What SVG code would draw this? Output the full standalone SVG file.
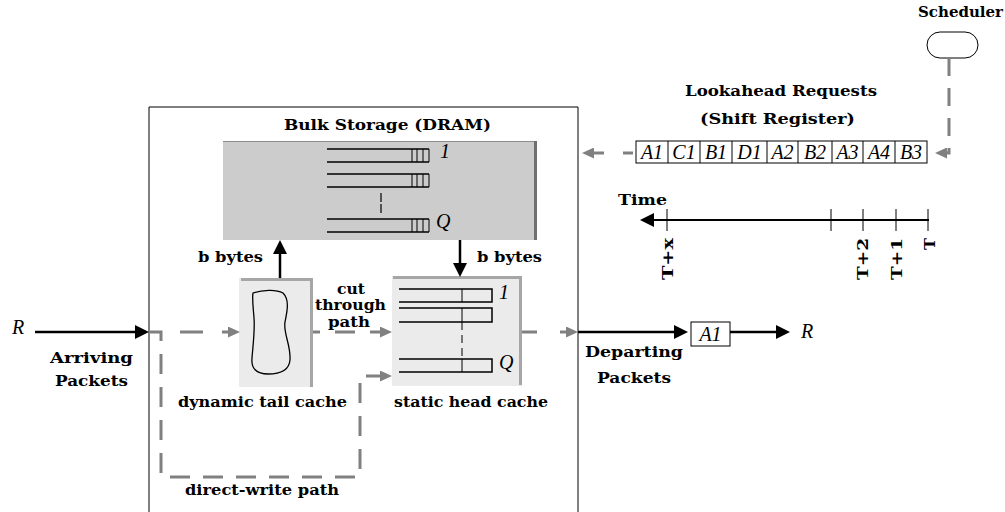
<svg xmlns="http://www.w3.org/2000/svg" width="1005" height="512" viewBox="0 0 1005 512">
<style>
.lb{font-family:"DejaVu Serif","Liberation Serif",serif;font-weight:bold;font-size:15.5px;fill:#000}
.sm{font-size:14px}
.it{font-family:"Liberation Serif","DejaVu Serif",serif;font-style:italic;font-size:20px;fill:#000}
.ln{stroke:#000;stroke-width:1;fill:none}
.q{stroke:#000;stroke-width:1.5;fill:none}
.gd{stroke:#808080;stroke-width:3;fill:none}
.bk{stroke:#000;stroke-width:2.5;fill:none}
.shade{stroke:#a6a6a6;stroke-width:3;fill:none}
</style>
<defs>
<marker id="ga" markerUnits="userSpaceOnUse" markerWidth="12" markerHeight="11" refX="0" refY="5.5" orient="auto"><path d="M0,0 L12,5.5 L0,11 z" fill="#808080"/></marker>
<marker id="ba" markerUnits="userSpaceOnUse" markerWidth="14" markerHeight="14" refX="0" refY="7" orient="auto"><path d="M0,0 L14,7 L0,14 z" fill="#000"/></marker>
</defs>
<rect width="1005" height="512" fill="#fff"/>

<g id="router-box">
<path class="ln" d="M149,512 V107 H578 V512"/>
</g>

<g id="bulk-storage">
<text class="lb" x="387.5" y="130" text-anchor="middle" textLength="207" lengthAdjust="spacingAndGlyphs">Bulk Storage (DRAM)</text>
<rect x="223" y="141" width="314" height="99" fill="#cccccc"/>
<line x1="223" y1="141.5" x2="537" y2="141.5" stroke="#8c8c8c" stroke-width="1"/>
<line x1="535.5" y1="141" x2="535.5" y2="240" stroke="#707070" stroke-width="3"/>
<path class="q" d="M327,149 H429 M327,162 H429 M327,174 H429 M327,187 H429 M327,219 H429 M327,232 H429"/>
<path class="ln" d="M412,149 V162 M417,149 V162 M423,149 V162 M429,149 V162 M412,174 V187 M417,174 V187 M423,174 V187 M429,174 V187 M412,219 V232 M417,219 V232 M423,219 V232 M429,219 V232"/>
<line x1="381" y1="193" x2="381" y2="213" stroke="#000" stroke-width="1.2" stroke-dasharray="9 2"/>
<text class="it" x="440" y="158" font-size="18">1</text>
<text class="it" x="436" y="228" font-size="18">Q</text>
</g>

<g id="tail-cache">
<rect x="239" y="278" width="74" height="109" fill="#ebebeb"/>
<path class="shade" d="M241,279.5 H311.5 V387"/>
<path stroke="#000" stroke-width="1.3" fill="none" d="M253,293 C262,290 276,289 283,293 C290,300 287,312 285,322 C283,333 291,345 290,360 C289,372 278,374 268,374 C256,374 251,368 252,358 C253,345 255,330 254,318 C253,305 252,298 253,293 Z"/>
<text class="lb" x="262.5" y="407" text-anchor="middle" textLength="169" lengthAdjust="spacingAndGlyphs">dynamic tail cache</text>
</g>

<g id="head-cache">
<rect x="392" y="276" width="130" height="110" fill="#ebebeb"/>
<path class="shade" d="M393,277.5 H520.5 V385"/>
<path class="q" d="M399,289 H492 V302 H399 M399,308 H492 V322 H399 M399,359 H492 V372 H399"/>
<path class="ln" d="M462,289 V302 M462,308 V322 M462,359 V372"/>
<line x1="462" y1="322" x2="462" y2="359" stroke="#000" stroke-width="1" stroke-dasharray="8 5"/>
<text class="it" x="499" y="299" font-size="18">1</text>
<text class="it" x="499" y="369" font-size="18">Q</text>
<text class="lb" x="471" y="407" text-anchor="middle" textLength="154" lengthAdjust="spacingAndGlyphs">static head cache</text>
</g>

<g id="arriving">
<text class="it" x="12" y="334">R</text>
<text class="lb" x="91.5" y="363" text-anchor="middle" textLength="83" lengthAdjust="spacingAndGlyphs">Arriving</text>
<text class="lb" x="91.5" y="386" text-anchor="middle" textLength="73" lengthAdjust="spacingAndGlyphs">Packets</text>
</g>

<g id="departing">
<text class="lb" x="634" y="357" text-anchor="middle" textLength="98" lengthAdjust="spacingAndGlyphs">Departing</text>
<text class="lb" x="634" y="383" text-anchor="middle" textLength="74" lengthAdjust="spacingAndGlyphs">Packets</text>
<rect x="691" y="322" width="39" height="24" class="ln" fill="#fff"/>
<text class="it" x="710.5" y="341" text-anchor="middle">A1</text>
<text class="it" x="801" y="338">R</text>
</g>

<g id="scheduler">
<text class="lb" x="960.5" y="17" text-anchor="middle" textLength="85" lengthAdjust="spacingAndGlyphs">Scheduler</text>
<rect x="927" y="32" width="51" height="26" rx="13" ry="13" class="ln" fill="#fff"/>
</g>

<g id="shift-register">
<text class="lb" x="781" y="96" text-anchor="middle" textLength="192" lengthAdjust="spacingAndGlyphs">Lookahead Requests</text>
<text class="lb" x="777.5" y="124" text-anchor="middle" textLength="155" lengthAdjust="spacingAndGlyphs">(Shift Register)</text>
<rect x="636" y="141" width="291" height="22" class="ln" fill="#fff"/>
<path class="ln" d="M668,141 V163 M700,141 V163 M732,141 V163 M767,141 V163 M798,141 V163 M832,141 V163 M863,141 V163 M895,141 V163"/>
<g class="it" text-anchor="middle">
<text x="652" y="159">A1</text>
<text x="684" y="159">C1</text>
<text x="716" y="159">B1</text>
<text x="749.5" y="159">D1</text>
<text x="782.5" y="159">A2</text>
<text x="815" y="159">B2</text>
<text x="847.5" y="159">A3</text>
<text x="879" y="159">A4</text>
<text x="911" y="159">B3</text>
</g>
</g>

<g id="timeline">
<text class="lb" x="618" y="205" textLength="49" lengthAdjust="spacingAndGlyphs">Time</text>
<line x1="654" y1="220" x2="929" y2="220" stroke="#000" stroke-width="2"/>
<path d="M640,220 L654,213 L654,227 z" fill="#000"/>
<path class="ln" d="M667,209 V231 M831,209 V231 M863,209 V231 M896,209 V231 M928,209 V231"/>
<text class="lb" transform="translate(673,238) rotate(-90)" text-anchor="end" textLength="42" lengthAdjust="spacingAndGlyphs">T+x</text>
<text class="lb" transform="translate(868,238) rotate(-90)" text-anchor="end" textLength="42" lengthAdjust="spacingAndGlyphs">T+2</text>
<text class="lb" transform="translate(902,238) rotate(-90)" text-anchor="end" textLength="42" lengthAdjust="spacingAndGlyphs">T+1</text>
<text class="lb" transform="translate(935,238) rotate(-90)" text-anchor="end" textLength="12" lengthAdjust="spacingAndGlyphs">T</text>
</g>

<g id="labels">
<text class="lb" x="230.5" y="262" text-anchor="middle" textLength="65" lengthAdjust="spacingAndGlyphs">b bytes</text>
<text class="lb" x="509.5" y="262" text-anchor="middle" textLength="65" lengthAdjust="spacingAndGlyphs">b bytes</text>
<text class="lb sm" x="351" y="294" text-anchor="middle" textLength="28" lengthAdjust="spacingAndGlyphs">cut</text>
<text class="lb sm" x="350.5" y="310" text-anchor="middle" textLength="71" lengthAdjust="spacingAndGlyphs">through</text>
<text class="lb sm" x="349" y="327" text-anchor="middle" textLength="42" lengthAdjust="spacingAndGlyphs">path</text>
<text class="lb" x="262" y="495" text-anchor="middle" textLength="154" lengthAdjust="spacingAndGlyphs">direct-write path</text>
</g>

<g id="connectors">
<path class="bk" d="M35,332 H135" marker-end="url(#ba)"/>
<path class="bk" d="M280,278 V254" marker-end="url(#ba)"/>
<path class="bk" d="M460,240 V263" marker-end="url(#ba)"/>
<path class="bk" d="M578,332 H674" marker-end="url(#ba)"/>
<path class="bk" d="M730,332 H776" marker-end="url(#ba)"/>
<path class="gd" d="M161,332 H228" stroke-dasharray="23 19" stroke-dashoffset="23" marker-end="url(#ga)"/>
<path class="gd" d="M150,332 H161 V477 H360 V376 H380" stroke-dasharray="20 13" marker-end="url(#ga)"/>
<path class="gd" d="M313,332 H380" stroke-dasharray="7 15 20 15 20 15" marker-end="url(#ga)"/>
<path class="gd" d="M522,332 H566" stroke-dasharray="15 23 20 23" marker-end="url(#ga)"/>
<path class="gd" d="M633,153 H594" stroke-dasharray="10 19 20 19" marker-end="url(#ga)"/>
<path class="gd" d="M949,58 V153 H947" stroke-dasharray="18 12" marker-end="url(#ga)"/>
</g>
</svg>
